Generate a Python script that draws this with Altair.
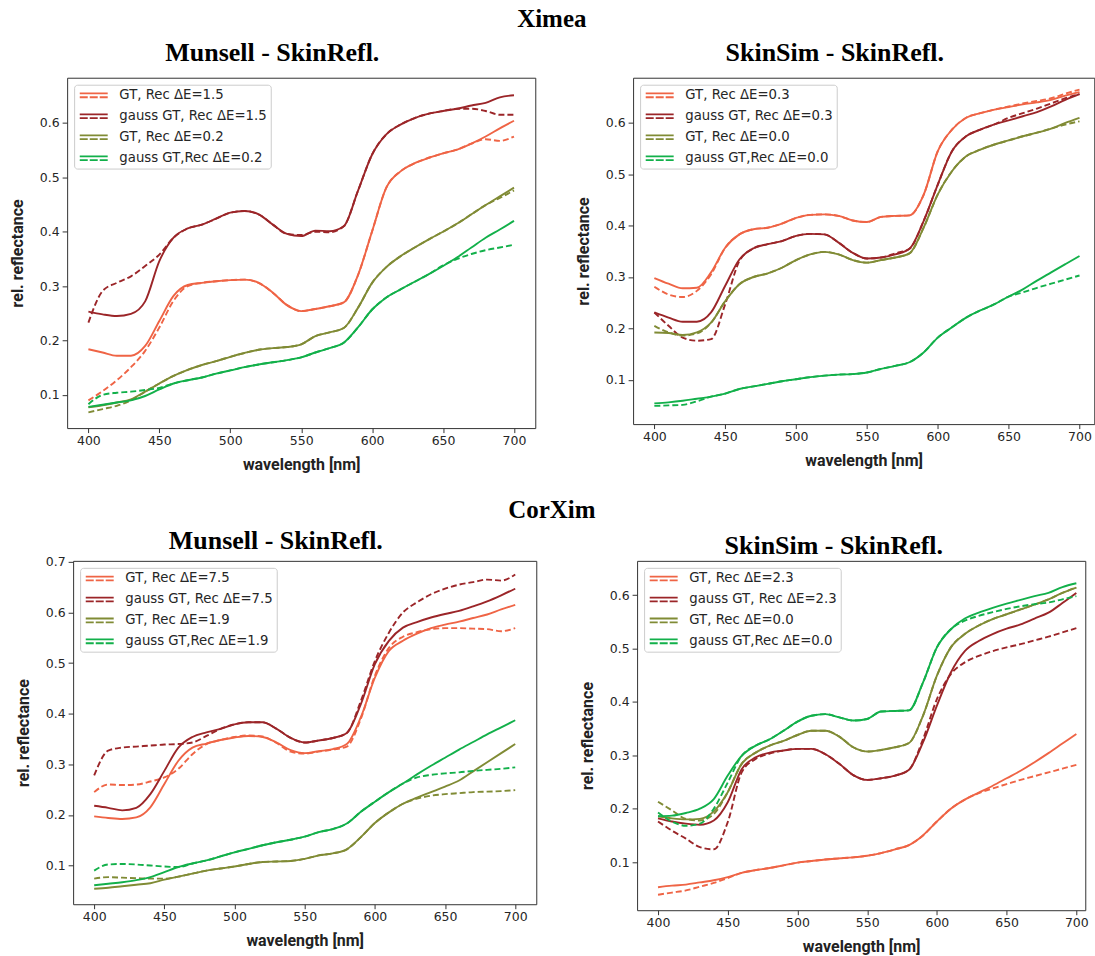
import altair as alt
import pandas as pd

WL = [400, 410, 420, 430, 440, 450, 460, 470, 480, 490, 500, 510, 520, 530, 540, 550,
      560, 570, 580, 590, 600, 610, 620, 630, 640, 650, 660, 670, 680, 690, 700]
X_TICKS = [400, 450, 500, 550, 600, 650, 700]
COLORS = ["#ef6445", "#9b2528", "#808b35", "#12b04a"]

# ---------------- Ximea / Munsell - SkinRefl. ----------------
P1_LABELS = ["GT, Rec \u0394E=1.5", "gauss GT, Rec \u0394E=1.5", "GT, Rec \u0394E=0.2", "gauss GT,Rec \u0394E=0.2"]
P1_GT = [
    [.184, .178, .172, .172, .190, .236, .282, .302, .306, .309, .311, .312, .306, .288, .265, .254,
     .258, .263, .270, .320, .401, .481, .511, .526, .536, .544, .551, .562, .575, .590, .604],
    [.253, .248, .245, .249, .272, .346, .389, .406, .413, .424, .435, .438, .432, .413, .396, .392,
     .402, .401, .410, .475, .542, .579, .597, .609, .617, .622, .626, .632, .637, .647, .651],
    [.077, .081, .086, .092, .106, .121, .135, .146, .155, .162, .170, .177, .183, .186, .188, .193,
     .208, .215, .223, .260, .306, .335, .355, .371, .386, .400, .415, .432, .449, .465, .481],
    [.078, .082, .086, .090, .098, .110, .121, .127, .132, .139, .145, .151, .156, .160, .164, .169,
     .178, .186, .196, .224, .257, .279, .294, .308, .322, .337, .353, .371, .389, .404, .420],
]
P1_REC = [
    [.090, .107, .127, .151, .181, .224, .273, .300, .306, .309, .311, .312, .306, .288, .265, .254,
     .258, .263, .270, .320, .401, .481, .511, .526, .536, .544, .551, .562, .570, .567, .575],
    [.233, .291, .306, .318, .337, .358, .389, .406, .413, .424, .435, .438, .432, .413, .396, .394,
     .400, .399, .410, .475, .542, .579, .597, .609, .617, .622, .626, .626, .622, .615, .615],
    [.068, .074, .080, .090, .106, .121, .135, .146, .155, .162, .170, .177, .183, .186, .188, .193,
     .208, .215, .223, .260, .306, .335, .355, .371, .386, .400, .415, .432, .449, .462, .476],
    [.083, .100, .104, .106, .109, .113, .121, .127, .132, .139, .145, .151, .156, .160, .164, .169,
     .178, .186, .196, .224, .257, .279, .294, .308, .322, .338, .350, .359, .366, .371, .376],
]

# ---------------- Ximea / SkinSim - SkinRefl. ----------------
P2_LABELS = ["GT, Rec \u0394E=0.3", "gauss GT, Rec \u0394E=0.3", "GT, Rec \u0394E=0.0", "gauss GT,Rec \u0394E=0.0"]
P2_GT = [
    [.298, .287, .278, .279, .309, .357, .383, .393, .396, .404, .415, .421, .422, .419, .410, .407,
     .417, .419, .420, .460, .545, .587, .610, .619, .626, .631, .636, .640, .645, .653, .660],
    [.231, .221, .213, .213, .231, .283, .334, .356, .364, .370, .380, .384, .383, .367, .347, .336,
     .338, .344, .355, .409, .480, .545, .574, .587, .597, .605, .613, .621, .632, .645, .656],
    [.192, .191, .187, .192, .211, .253, .286, .300, .307, .318, .333, .344, .349, .344, .333, .328,
     .333, .338, .346, .396, .461, .506, .535, .548, .558, .566, .574, .581, .589, .600, .610],
    [.054, .056, .059, .063, .067, .073, .082, .087, .092, .097, .101, .105, .108, .110, .111, .114,
     .121, .127, .134, .153, .182, .202, .221, .235, .247, .262, .276, .293, .309, .325, .341],
]
P2_REC = [
    [.281, .266, .261, .273, .305, .357, .383, .393, .396, .404, .415, .421, .422, .419, .410, .407,
     .417, .419, .420, .460, .545, .587, .610, .619, .626, .632, .638, .643, .648, .657, .665],
    [.231, .205, .182, .176, .179, .247, .331, .356, .364, .370, .380, .384, .383, .367, .347, .336,
     .338, .346, .355, .409, .480, .545, .574, .587, .597, .610, .619, .628, .638, .648, .656],
    [.205, .192, .186, .190, .211, .253, .286, .300, .307, .318, .333, .344, .349, .344, .333, .328,
     .333, .338, .346, .396, .461, .506, .535, .548, .558, .566, .574, .581, .589, .597, .603],
    [.049, .050, .051, .058, .067, .073, .082, .087, .092, .097, .101, .105, .108, .110, .111, .114,
     .121, .127, .134, .153, .182, .202, .221, .235, .247, .262, .270, .279, .287, .295, .303],
]

# ---------------- CorXim / Munsell - SkinRefl. ----------------
P3_LABELS = ["GT, Rec \u0394E=7.5", "gauss GT, Rec \u0394E=7.5", "GT, Rec \u0394E=1.9", "gauss GT,Rec \u0394E=1.9"]
P3_GT = [
    [.197, .194, .192, .195, .215, .261, .307, .333, .341, .348, .353, .356, .354, .343, .328, .322,
     .326, .330, .340, .393, .471, .524, .544, .558, .569, .576, .582, .589, .596, .606, .615],
    [.218, .214, .209, .214, .241, .287, .333, .354, .363, .370, .379, .383, .383, .370, .352, .343,
     .347, .352, .362, .419, .498, .544, .570, .581, .590, .597, .603, .612, .622, .634, .647],
    [.054, .056, .059, .062, .065, .072, .078, .084, .090, .094, .098, .103, .107, .108, .109, .113,
     .120, .124, .132, .156, .184, .205, .222, .234, .245, .256, .268, .286, .304, .322, .340],
    [.061, .064, .067, .071, .077, .087, .097, .104, .110, .118, .126, .133, .140, .146, .151, .157,
     .166, .172, .183, .206, .226, .245, .262, .280, .297, .313, .329, .344, .359, .373, .387],
]
P3_REC = [
    [.245, .260, .259, .260, .266, .274, .291, .320, .340, .348, .354, .357, .355, .342, .325, .321,
     .325, .329, .335, .390, .475, .530, .552, .561, .567, .569, .569, .568, .567, .563, .569],
    [.278, .327, .333, .335, .337, .339, .340, .343, .356, .370, .379, .383, .383, .370, .352, .343,
     .347, .352, .362, .425, .504, .560, .600, .620, .636, .647, .655, .660, .665, .663, .675],
    [.074, .077, .076, .075, .074, .074, .078, .084, .090, .094, .098, .103, .107, .108, .109, .113,
     .120, .124, .132, .156, .184, .205, .222, .232, .238, .241, .243, .245, .246, .247, .249],
    [.090, .102, .103, .102, .100, .098, .097, .104, .110, .118, .126, .133, .140, .146, .151, .157,
     .166, .172, .183, .206, .226, .245, .262, .274, .279, .282, .284, .287, .289, .291, .294],
]

# ---------------- CorXim / SkinSim - SkinRefl. ----------------
P4_LABELS = ["GT, Rec \u0394E=2.3", "gauss GT, Rec \u0394E=2.3", "GT, Rec \u0394E=0.0", "gauss GT,Rec \u0394E=0.0"]
P4_GT = [
    [.053, .056, .058, .062, .066, .072, .080, .085, .089, .094, .099, .102, .105, .107, .109, .112,
     .117, .124, .132, .150, .176, .200, .217, .230, .243, .257, .271, .287, .304, .322, .340],
    [.182, .176, .172, .170, .178, .212, .274, .296, .305, .309, .312, .312, .302, .284, .263, .254,
     .257, .262, .273, .324, .393, .455, .495, .514, .527, .537, .545, .556, .567, .585, .604],
    [.186, .182, .180, .181, .195, .231, .284, .305, .318, .327, .338, .346, .346, .335, .315, .307,
     .310, .315, .323, .374, .449, .502, .527, .543, .555, .564, .573, .582, .592, .604, .614],
    [.186, .187, .192, .200, .218, .262, .299, .318, .330, .346, .363, .374, .377, .371, .365, .368,
     .382, .383, .384, .436, .502, .536, .556, .567, .576, .584, .591, .598, .604, .615, .622],
]
P4_REC = [
    [.039, .043, .047, .054, .061, .070, .080, .085, .089, .094, .099, .102, .105, .107, .109, .112,
     .117, .124, .132, .150, .176, .200, .217, .229, .238, .246, .254, .261, .268, .275, .282],
    [.176, .159, .144, .128, .124, .175, .268, .293, .303, .309, .312, .312, .302, .284, .263, .254,
     .257, .262, .273, .330, .405, .452, .474, .486, .495, .502, .508, .515, .522, .530, .538],
    [.213, .197, .181, .178, .190, .231, .284, .305, .318, .327, .338, .346, .346, .335, .315, .307,
     .310, .315, .323, .374, .449, .502, .527, .543, .555, .564, .573, .582, .592, .604, .614],
    [.193, .176, .168, .172, .200, .249, .299, .318, .330, .346, .363, .374, .377, .371, .365, .368,
     .382, .383, .384, .436, .502, .536, .552, .561, .568, .574, .579, .583, .586, .592, .598],
]

TITLE_FONT = "Liberation Serif"
AXIS_TITLE_FONT = "Roboto"
LEG_PATH = ("M-1,-0.38L4.6,-0.38"
            "M-1,0.38L0.6,0.38M1,0.38L2.6,0.38M3,0.38L4.6,0.38")


def make_panel(title, labels, gt, rec, width, height, xdom, ydom, yticks, title_offset):
    scale = alt.Scale(domain=labels, range=COLORS)
    x = alt.X("wl:Q", scale=alt.Scale(domain=xdom, nice=False, zero=False),
              axis=alt.Axis(values=X_TICKS, format="d", title="wavelength [nm]"))
    y = alt.Y("v:Q", scale=alt.Scale(domain=ydom, nice=False, zero=False),
              axis=alt.Axis(values=yticks, format=".1f", title="rel. reflectance"))
    legend = alt.Legend(title=None, orient="top-left", offset=7, symbolType=LEG_PATH,
                        symbolSize=100, symbolStrokeWidth=1.8, labelFont="DejaVu Sans",
                        labelFontSize=13.3, labelColor="#262626", labelOffset=28,
                        padding=4, rowPadding=7, fillColor="white", strokeColor="#cccccc",
                        cornerRadius=3)
    layers = []
    for i in range(4):
        dgt = pd.DataFrame({"wl": WL, "v": gt[i], "label": labels[i]})
        drec = pd.DataFrame({"wl": WL, "v": rec[i]})
        layers.append(
            alt.Chart(dgt).mark_line(strokeWidth=1.9, interpolate="monotone")
            .encode(x=x, y=y, color=alt.Color("label:N", scale=scale, legend=legend))
        )
        layers.append(
            alt.Chart(drec).mark_line(strokeWidth=1.9, interpolate="monotone",
                                      strokeDash=[6, 3], color=COLORS[i])
            .encode(x=x, y=y)
        )
    return alt.layer(*layers).properties(
        width=width, height=height,
        title=alt.TitleParams(title, font=TITLE_FONT, fontSize=26, fontWeight="bold",
                              color="black", offset=title_offset, anchor="middle",
                              frame="bounds"),
    )


p1 = make_panel("Munsell - SkinRefl.", P1_LABELS, P1_GT, P1_REC, 469, 351,
                [385, 715], [0.039, 0.6831], [0.1, 0.2, 0.3, 0.4, 0.5, 0.6], 12)
p2 = make_panel("SkinSim - SkinRefl.", P2_LABELS, P2_GT, P2_REC, 462, 347,
                [385, 710.4], [0.0136, 0.688], [0.1, 0.2, 0.3, 0.4, 0.5, 0.6], 12)
p3 = make_panel("Munsell - SkinRefl.", P3_LABELS, P3_GT, P3_REC, 464, 344,
                [385, 715], [0.0235, 0.702], [0.1, 0.2, 0.3, 0.4, 0.5, 0.6, 0.7], 2)
p4 = make_panel("SkinSim - SkinRefl.", P4_LABELS, P4_GT, P4_REC, 449, 350,
                [385, 706.4], [0.010, 0.664], [0.1, 0.2, 0.3, 0.4, 0.5, 0.6], 2)

row1 = alt.hconcat(p1, p2, spacing=38).resolve_scale(
    color="independent", x="independent", y="independent").properties(
    title=alt.TitleParams("Ximea", font=TITLE_FONT, fontSize=25, fontWeight="bold",
                          color="black", anchor="middle", offset=7))
row2 = alt.hconcat(p3, p4, spacing=41).resolve_scale(
    color="independent", x="independent", y="independent").properties(
    title=alt.TitleParams("CorXim", font=TITLE_FONT, fontSize=25, fontWeight="bold",
                          color="black", anchor="middle", offset=4))

chart = alt.vconcat(row1, row2, spacing=25, center=True).resolve_scale(
    color="independent", x="independent", y="independent"
).properties(
    padding={"left": 8, "top": 6, "right": 0, "bottom": 0},
    background="white",
).configure_view(
    stroke="#333333", strokeWidth=1
).configure_axis(
    grid=False, domain=False, tickColor="#333333", tickWidth=1,
    labelFont="DejaVu Sans", labelFontSize=12.5, labelColor="#262626",
    titleFont=AXIS_TITLE_FONT, titleFontSize=16, titleFontWeight="bold", titleColor="#222222",
).configure_axisX(
    tickSize=4.5, labelPadding=1.5, titlePadding=10
).configure_axisY(
    tickSize=5, labelPadding=3, titlePadding=14
)

chart.save("out.html", embed_options={"renderer": "svg", "actions": False})
